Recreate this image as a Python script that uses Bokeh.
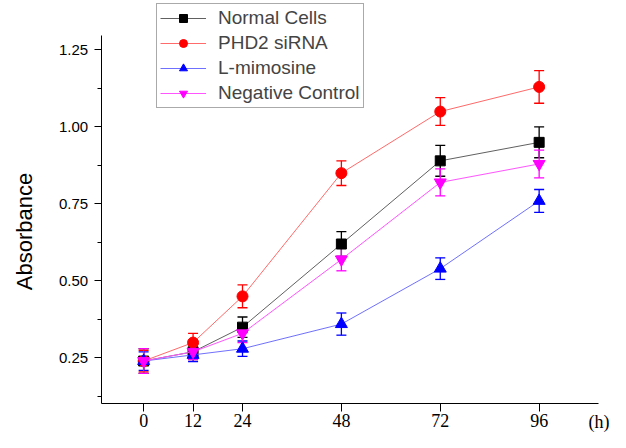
from bokeh.plotting import figure
from bokeh.models import (ColumnDataSource, Whisker, TeeHead, Legend, LegendItem,
                          FixedTicker, Range1d, Label)
from bokeh.embed import file_html
from bokeh.resources import INLINE

hours = [0, 12, 24, 48, 72, 96]
tick_labels = ["0", "12", "24", "48", "72", "96"]
x_unit_label = "(h)"
y_title = "Absorbance"

normal = [0.24, 0.27, 0.35, 0.62, 0.89, 0.95]
normal_err = [0.04, 0.025, 0.033, 0.04, 0.05, 0.05]
phd2 = [0.24, 0.30, 0.45, 0.85, 1.05, 1.13]
phd2_err = [0.035, 0.03, 0.037, 0.04, 0.045, 0.053]
mimosine = [0.24, 0.26, 0.28, 0.36, 0.54, 0.76]
mimosine_err = [0.03, 0.022, 0.025, 0.036, 0.035, 0.037]
negative = [0.24, 0.27, 0.33, 0.57, 0.82, 0.88]
negative_err = [0.04, 0.025, 0.03, 0.037, 0.044, 0.045]

series = [
    ("Normal Cells", normal, normal_err, "black", "#606060", "square", 10),
    ("PHD2 siRNA", phd2, phd2_err, "red", "#ff6a6a", "circle", 11),
    ("L-mimosine", mimosine, mimosine_err, "blue", "#7070ff", "triangle", 12),
    ("Negative Control", negative, negative_err, "magenta", "#ff55ff", "inverted_triangle", 12),
]

X_AXIS_START, X_AXIS_END = -10.3, 110.5
Y_AXIS_START, Y_AXIS_END = 0.101, 1.297

p = figure(width=610, height=432, output_backend="svg", toolbar_location=None,
           x_range=Range1d(-34.74, 113.32), y_range=Range1d(0.008, 1.4106),
           min_border_left=0, min_border_right=0, min_border_top=0, min_border_bottom=0)
p.outline_line_color = None
p.xgrid.visible = False
p.ygrid.visible = False

items = []
for name, vals, errs, col, lcol, marker, size in series:
    src = ColumnDataSource(dict(x=hours, y=vals,
                                upper=[v + e for v, e in zip(vals, errs)],
                                lower=[v - e for v, e in zip(vals, errs)]))
    ln = p.line("x", "y", source=src, line_color=lcol, line_width=1)
    w = Whisker(base="x", upper="upper", lower="lower", source=src,
                line_color=col, line_width=1.3,
                upper_head=TeeHead(size=10, line_color=col, line_width=1.3),
                lower_head=TeeHead(size=10, line_color=col, line_width=1.3))
    p.add_layout(w)
    sc = p.scatter("x", "y", source=src, marker=marker, size=size,
                   fill_color=col, line_color=col)
    items.append(LegendItem(label=name, renderers=[ln, sc]))

legend = Legend(items=items, location=(156, 324), label_text_font="Liberation Sans",
                label_text_font_size="19px", glyph_width=46, glyph_height=20,
                label_height=20, spacing=3, padding=3, margin=0, label_standoff=12,
                border_line_color="#555555", border_line_width=1,
                background_fill_color="white", background_fill_alpha=1)
p.add_layout(legend)

# x axis, drawn at the bottom of the data area
p.xaxis.fixed_location = Y_AXIS_START
p.xaxis.bounds = (X_AXIS_START, X_AXIS_END)
p.xaxis.ticker = FixedTicker(ticks=hours)
p.xaxis.major_label_overrides = {h: t for h, t in zip(hours, tick_labels)}
p.xaxis.major_label_text_font = "Liberation Serif"
p.xaxis.major_label_text_font_size = "18px"
p.xaxis.major_label_text_color = "black"
p.xaxis.major_tick_out = 8
p.xaxis.major_tick_in = 0
p.xaxis.minor_tick_line_color = None
p.xaxis.major_label_standoff = 2
p.xaxis.axis_line_color = "black"

p.add_layout(Label(x=X_AXIS_END, y=0.0437, text=x_unit_label, text_font="Liberation Serif",
                   text_font_size="18px", text_align="center", text_baseline="middle",
                   text_color="black"))

# y axis, drawn at the left end of the x axis
p.yaxis.fixed_location = X_AXIS_START
p.yaxis.bounds = (Y_AXIS_START, Y_AXIS_END)
p.yaxis.ticker = FixedTicker(ticks=[0.25, 0.5, 0.75, 1.0, 1.25],
                             minor_ticks=[0.125, 0.375, 0.625, 0.875, 1.125])
p.yaxis.major_label_overrides = {0.25: "0.25", 0.5: "0.50", 0.75: "0.75",
                                 1.0: "1.00", 1.25: "1.25"}
p.yaxis.major_label_text_font = "Liberation Sans"
p.yaxis.major_label_text_font_size = "15px"
p.yaxis.major_label_text_color = "black"
p.yaxis.major_tick_out = 7
p.yaxis.major_tick_in = 0
p.yaxis.minor_tick_out = 4
p.yaxis.minor_tick_in = 0
p.yaxis.major_label_standoff = 6
p.yaxis.axis_line_color = "black"

p.add_layout(Label(x=-28.9, y=0.6606, text=y_title, text_font="Liberation Sans",
                   text_font_size="22px", text_align="center", text_baseline="middle",
                   angle=90, angle_units="deg", text_color="black"))

open("out.html", "w").write(file_html(p, INLINE))
